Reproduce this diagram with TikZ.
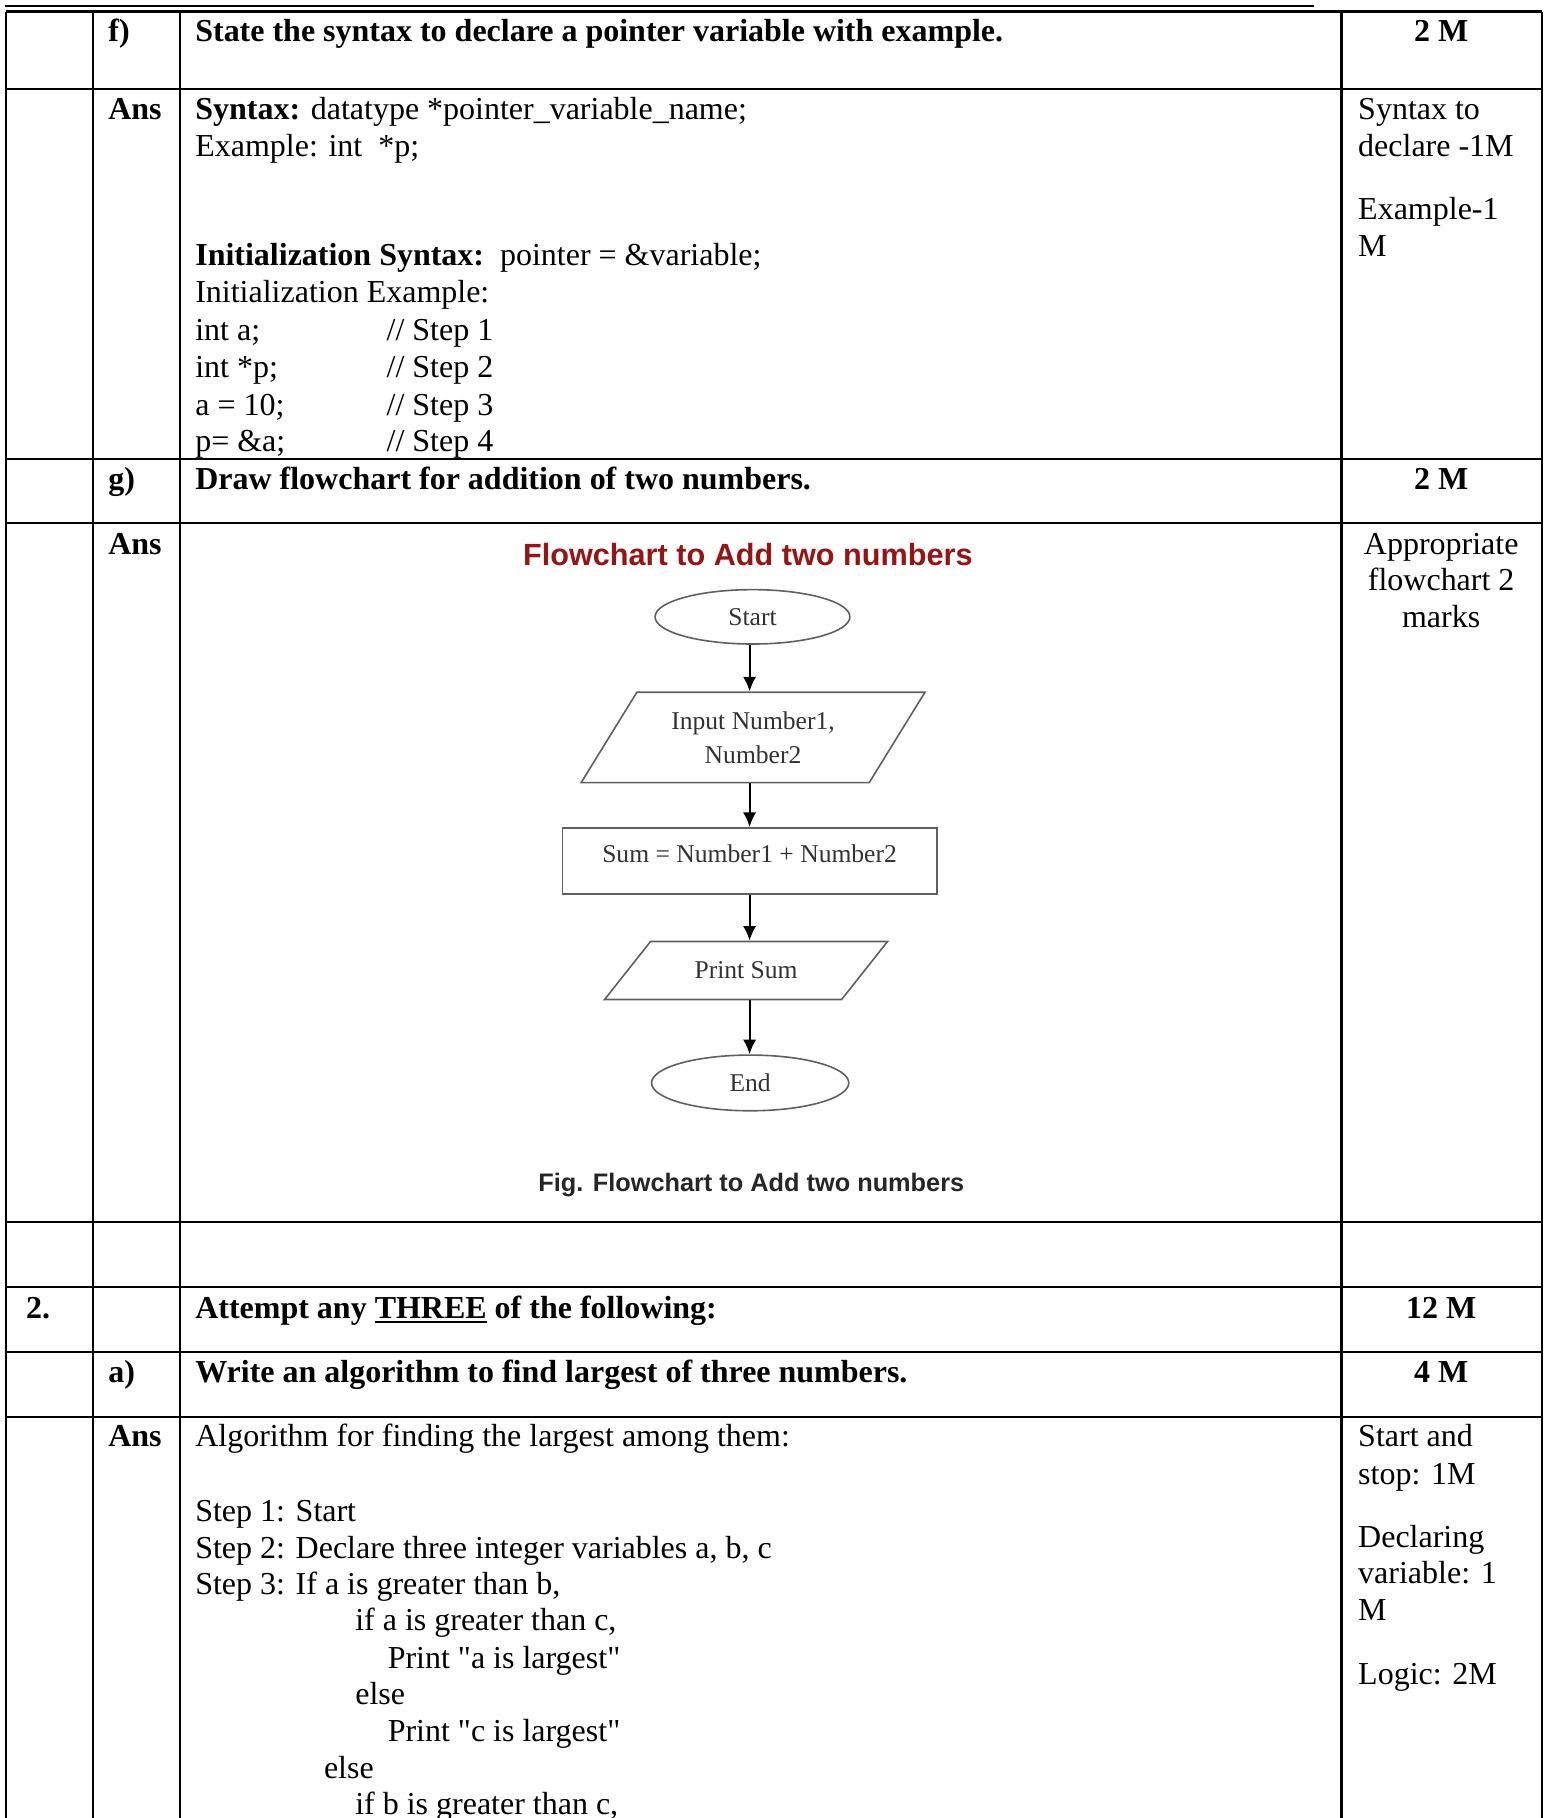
\documentclass[tikz,border=0pt]{standalone}
\usepackage{fontspec}
\setmainfont{Liberation Serif}[Ligatures=TeXOff]
\newfontfamily\arialf{Liberation Sans}
\usetikzlibrary{shapes.geometric,arrows.meta}
\definecolor{titlered}{RGB}{150,20,20}
\definecolor{shapegray}{RGB}{95,95,95}
\definecolor{fctext}{RGB}{50,50,50}
\begin{document}
\begin{tikzpicture}[x=0.435pt,y=-0.435pt,
  tx/.style={anchor=base west,inner sep=0pt,font=\fontsize{12}{14}\selectfont},
  bx/.style={anchor=base west,inner sep=0pt,font=\fontsize{12}{14}\selectfont\bfseries},
  cx/.style={anchor=base,inner sep=0pt,font=\fontsize{12}{14}\selectfont},
  cbx/.style={anchor=base,inner sep=0pt,font=\fontsize{12}{14}\selectfont\bfseries},
  gridline/.style={line width=0.9pt},
  term/.style={ellipse,draw=shapegray,line width=0.6pt,inner sep=0pt,text=fctext,
    font=\fontsize{9.6}{11.5}\selectfont},
  iobox/.style={trapezium,trapezium stretches=true,draw=shapegray,line width=0.6pt,
    inner sep=0pt,text=fctext,align=center,font=\fontsize{9.6}{12.7}\selectfont},
  procbox/.style={rectangle,draw=shapegray,line width=0.6pt,inner sep=0pt,text=fctext,
    font=\fontsize{9.6}{11.5}\selectfont},
  arr/.style={line width=0.8pt,-{Latex[length=5.5pt,width=5pt]}}]
\useasboundingbox (0,0) rectangle (1333,1568);
\clip (0,0) rectangle (1333,1568);

% top rule
\draw[line width=0.8pt] (4,5.5) -- (1133,5.5);

% table grid
\foreach \xx in {5,80,155,1157,1330} \draw[gridline] (\xx,10) -- (\xx,1570);
\foreach \yy in {10,77,396,451,1054,1110,1166,1222} \draw[gridline] (5,\yy) -- (1330,\yy);

% row f
\node[bx] (fl) at (93,36) {f)};
\node[bx] (fq) at (168,36) {State the syntax to declare a pointer variable with example.};
\node[cbx] (fm) at (1243,36) {2 M};

% answer f
\node[bx] (fa) at (93,103) {Ans};
\node[tx] (f1) at (168,103) {\textbf{Syntax:} datatype *pointer\_variable\_name;};
\node[tx] (f2) at (168,135) {Example: int\ \ *p;};
\node[tx] (f3) at (168,229) {\textbf{Initialization Syntax:}\ \ pointer = \&variable;};
\node[tx] (f4) at (168,261) {Initialization Example:};
\node[tx] (f5) at (168,294) {int a;};
\node[tx] (f5c) at (333,294) {// Step 1};
\node[tx] (f6) at (168,326) {int *p;};
\node[tx] (f6c) at (333,326) {// Step 2};
\node[tx] (f7) at (168,358) {a = 10;};
\node[tx] (f7c) at (333,358) {// Step 3};
\node[tx] (f8) at (168,389) {p= \&a;};
\node[tx] (f8c) at (333,389) {// Step 4};
\node[tx] (fr1) at (1171,103) {Syntax to};
\node[tx] (fr2) at (1171,135) {declare -1M};
\node[tx] (fr3) at (1171,189) {Example-1};
\node[tx] (fr4) at (1171,221) {M};

% row g
\node[bx] (gl) at (93,422) {g)};
\node[bx] (gq) at (168,422) {Draw flowchart for addition of two numbers.};
\node[cbx] (gm) at (1243,422) {2 M};
\node[bx] (ga) at (93,478) {Ans};
\node[cx] (gr1) at (1243,478) {Appropriate};
\node[cx] (gr2) at (1243,509) {flowchart 2};
\node[cx] (gr3) at (1243,541) {marks};

% flowchart
\node[inner sep=0pt,text=titlered,font=\arialf\bfseries\fontsize{11.5}{13}\selectfont] (ftitle) at (645,478) {Flowchart to Add two numbers};
\node[term,minimum width=73.1pt,minimum height=20.4pt] (start) at (649,532) {Start};
\node[iobox,trapezium left angle=52.9,trapezium right angle=127.1,minimum width=129.2pt,minimum height=33.9pt] (inp) at (649.5,636) {Input Number1,\\Number2};
\node[procbox,minimum width=140.5pt,minimum height=24.8pt,text height=7pt,text depth=6pt] (sum) at (646.5,742.5) {Sum = Number1 + Number2};
\node[iobox,trapezium left angle=34.8,trapezium right angle=145.2,minimum width=106.6pt,minimum height=21.75pt] (prt) at (643.5,837) {Print Sum};
\node[term,minimum width=74pt,minimum height=20.9pt] (endn) at (647,934) {End};
\node[inner sep=0pt,text=black!85,font=\arialf\bfseries\fontsize{9.5}{11}\selectfont] (fcap) at (648,1022) {Fig. Flowchart to Add two numbers};

\draw[arr] (start.south -| sum.center) -- (inp.north -| sum.center);
\draw[arr] (inp.south -| sum.center) -- (sum.north);
\draw[arr] (sum.south) -- (prt.north -| sum.center);
\draw[arr] (prt.south -| sum.center) -- (endn.north -| sum.center);

% row 2
\node[bx] (q2) at (22,1137) {2.};
\node[bx] (q2t) at (168,1137) {Attempt any \underline{THREE} of the following:};
\node[cbx] (q2m) at (1243,1137) {12 M};

% row a
\node[bx] (al) at (93,1192) {a)};
\node[bx] (aq) at (168,1192) {Write an algorithm to find largest of three numbers.};
\node[cbx] (am) at (1243,1192) {4 M};

% answer a
\node[bx] (aa) at (93,1248) {Ans};
\node[tx] (a0) at (168,1248) {Algorithm for finding the largest among them:};
\node[tx] (a1) at (168,1312) {Step 1: Start};
\node[tx] (a2) at (168,1344) {Step 2: Declare three integer variables a, b, c};
\node[tx] (a3) at (168,1375) {Step 3: If a is greater than b,};
\node[tx] (a4) at (306,1406) {if a is greater than c,};
\node[tx] (a5) at (334,1439) {Print "a is largest"};
\node[tx] (a6) at (306,1470) {else};
\node[tx] (a7) at (334,1502) {Print "c is largest"};
\node[tx] (a8) at (279,1534) {else};
\node[tx] (a9) at (306,1565) {if b is greater than c,};
\node[tx] (ar1) at (1171,1248) {Start and};
\node[tx] (ar2) at (1171,1280) {stop: 1M};
\node[tx] (ar3) at (1171,1335) {Declaring};
\node[tx] (ar4) at (1171,1366) {variable: 1};
\node[tx] (ar5) at (1171,1398) {M};
\node[tx] (ar6) at (1171,1453) {Logic: 2M};
\end{tikzpicture}
\end{document}
